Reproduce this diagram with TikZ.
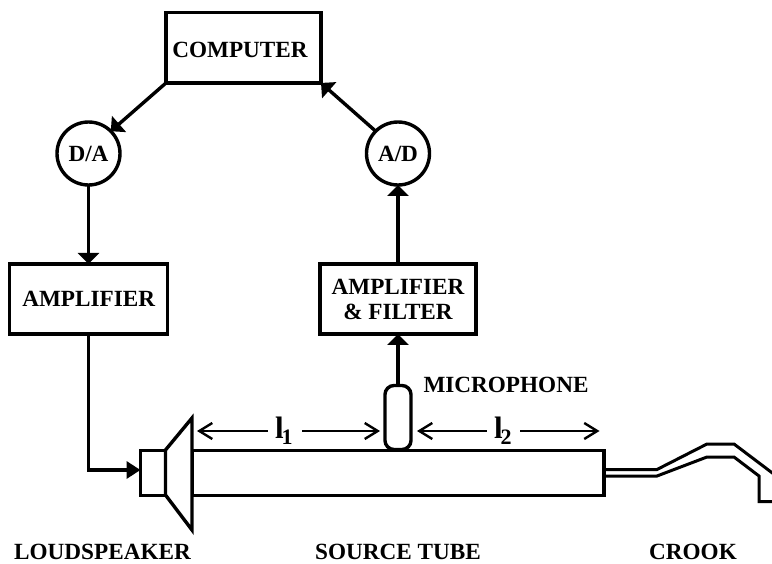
\documentclass[tikz,border=0pt]{standalone}
\usepackage{fontspec}
\setmainfont{Liberation Serif}
\usetikzlibrary{arrows.meta,calc}
\newcommand{\labfont}{\fontsize{23.2}{25}\selectfont\bfseries}
\newcommand{\dimlab}[1]{{\fontsize{31}{31}\selectfont\bfseries l}\kern-2pt\raisebox{-5.3pt}{\fontsize{22}{22}\selectfont\bfseries #1}}
\tikzset{
  every node/.style={outer sep=0pt},
  boxy/.style={draw=black,line width=3.4pt,fill=white,inner sep=0pt,align=center,font=\labfont},
  conv/.style={draw=black,circle,line width=3.4pt,fill=white,minimum size=63pt,inner sep=0pt,font=\labfont},
  lab/.style={inner sep=0pt,anchor=base,font=\labfont},
  sig/.style={line width=3.4pt,-{Triangle[length=11pt,width=21pt]}},
  drive/.style={line width=3.4pt,line join=miter,-{Triangle[length=14pt,width=17pt]}},
  part/.style={draw=black,line width=3.4pt,fill=white,inner sep=0pt},
  crookline/.style={line width=3pt,line join=miter},
  barb/.style={line width=2.2pt},
  barbl/.style={barb,{Straight Barb[length=13pt,width=16pt,line width=2.4pt]}-},
  barbr/.style={barb,-{Straight Barb[length=13pt,width=16pt,line width=2.4pt]}},
  dimtxt/.style={inner sep=0pt,anchor=base west}
}
\begin{document}
\begin{tikzpicture}[x=1pt,y=-1pt]
\useasboundingbox (0,0) rectangle (772,564);
% main parts
\node[boxy,minimum width=155pt,minimum height=70.5pt,text height=20.5pt] (comp) at (243.5,47.7) {COMPUTER\hspace*{7pt}};
\node[conv] (da) at (88.5,153.5) {D/A};
\node[conv] (ad) at (398,153.5) {A/D};
\node[boxy,minimum width=158pt,minimum height=70pt] (amp) at (88.7,299) {AMPLIFIER};
\node[boxy,minimum width=156pt,minimum height=70pt] (filt) at (398,299) {AMPLIFIER\\\& FILTER};
\node[part,minimum width=25pt,minimum height=45pt] (drv) at (153,472.7) {};
\node[part,minimum width=412pt,minimum height=45pt] (tube) at (398,472.7) {};
\draw[line width=3.4pt,line join=miter,fill=white] (165.5,450) -- (192,418) -- (192,530) -- (165.5,495) -- cycle;
\node[part,rounded corners=9pt,minimum width=26pt,minimum height=64pt] (mic) at (398,417.5) {};
% crook
\coordinate (c1) at (604,469.5);
\coordinate (c2) at (604,476);
\draw[crookline] (c1) -- (657,469.5) -- (707,444) -- (734,444) -- (775,475);
\draw[crookline] (c2) -- (657,476) -- (707,457) -- (734,457) -- (759,476) -- (759,501.5) -- (775,501.5);
% signal flow
\draw[sig] (comp.south west) -- (da.45);
\draw[sig] (ad.135) -- (comp.south east);
\draw[sig] (da.south) -- (da.south|-amp.north);
\draw[sig] (filt.north) -- (ad.south);
\draw[sig] (mic.north) -- (filt.south);
\coordinate (bend) at (88.7,470);
\draw[drive] (amp.south) -- (bend) -- (drv.west|-bend);
% dimensions
\node[dimtxt] (l1) at (275,438.7) {\dimlab{1}};
\node[dimtxt] (l2) at (494,438.7) {\dimlab{2}};
\coordinate (a1) at (197,431);
\coordinate (a2) at (268,431);
\coordinate (a3) at (302,431);
\coordinate (a4) at (380,431);
\coordinate (a5) at (417,431);
\coordinate (a6) at (487,431);
\coordinate (a7) at (520,431);
\coordinate (a8) at (599.5,431);
\draw[barbl] (a1) -- (a2);
\draw[barbr] (a3) -- (a4);
\draw[barbl] (a5) -- (a6);
\draw[barbr] (a7) -- (a8);
% labels
\node[lab] (mt) at (506,392.7) {MICROPHONE};
\node[lab] (ls) at (102.5,559) {LOUDSPEAKER};
\node[lab] (st) at (398,559) {SOURCE TUBE};
\node[lab] (cr) at (693,559) {CROOK};
\end{tikzpicture}
\end{document}
